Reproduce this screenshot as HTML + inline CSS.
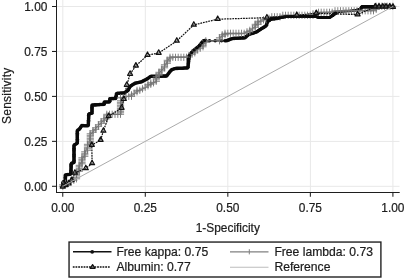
<!DOCTYPE html>
<html><head><meta charset="utf-8"><title>ROC</title><style>html,body{margin:0;padding:0;background:#fff}svg{display:block;filter:grayscale(1)}</style></head><body>
<svg width="405" height="278" viewBox="0 0 405 278">
<rect width="405" height="278" fill="#fff"/>
<g stroke="#e8e8e8" stroke-width="1"><line x1="62.8" y1="0" x2="62.8" y2="192"/><line x1="56.5" y1="186.3" x2="399.5" y2="186.3"/><line x1="145.3" y1="0" x2="145.3" y2="192"/><line x1="56.5" y1="141.4" x2="399.5" y2="141.4"/><line x1="227.8" y1="0" x2="227.8" y2="192"/><line x1="56.5" y1="96.4" x2="399.5" y2="96.4"/><line x1="310.4" y1="0" x2="310.4" y2="192"/><line x1="56.5" y1="51.4" x2="399.5" y2="51.4"/><line x1="392.9" y1="0" x2="392.9" y2="192"/><line x1="56.5" y1="6.5" x2="399.5" y2="6.5"/></g>
<polyline points="62.6,186.3 62.9,182.0 65.3,181.3 65.3,175.0 70.9,174.2 71.2,163.4 74.0,162.5 74.0,145.1 77.3,143.2 77.3,130.6 79.9,128.7 81.7,125.6 88.3,125.8 88.8,113.9 92.0,113.2 92.0,105.1 104.2,104.3 104.2,102.1 109.8,101.9 109.8,98.7 115.6,98.5 116.6,93.4 124.1,92.9 127.9,90.6 130.1,86.4 135.1,83.2 141.4,81.9 146.8,79.1 150.8,76.3 166.5,76.1 169.0,72.9 171.5,69.7 175.3,68.5 187.9,67.9 188.5,61.5 189.3,55.4 192.9,51.1 198.9,46.3 203.6,40.6 226.2,40.8 232.5,38.5 244.8,37.8 248.6,34.6 256.2,32.1 261.2,28.9 266.2,25.8 267.5,21.4 271.3,18.9 278.8,18.2 286.0,16.6 300.0,16.4 316.0,16.5 318.5,17.5 330.0,17.5 334.9,13.5 340.0,11.5 353.8,10.7 360.8,8.8 362.0,6.7 393.0,6.6" fill="none" stroke="#0a0a0a" stroke-width="1.2" stroke-linejoin="round"/>
<g fill="#0a0a0a"><circle cx="62.6" cy="186.3" r="1.80"/><circle cx="62.7" cy="185.1" r="1.80"/><circle cx="62.8" cy="183.9" r="1.80"/><circle cx="62.9" cy="182.7" r="1.80"/><circle cx="63.4" cy="181.9" r="1.80"/><circle cx="64.5" cy="181.5" r="1.80"/><circle cx="65.3" cy="180.9" r="1.80"/><circle cx="65.3" cy="179.7" r="1.80"/><circle cx="65.3" cy="178.5" r="1.80"/><circle cx="65.3" cy="177.3" r="1.80"/><circle cx="65.3" cy="176.1" r="1.80"/><circle cx="65.4" cy="175.0" r="1.80"/><circle cx="66.6" cy="174.8" r="1.80"/><circle cx="67.8" cy="174.6" r="1.80"/><circle cx="69.0" cy="174.5" r="1.80"/><circle cx="70.1" cy="174.3" r="1.80"/><circle cx="70.9" cy="173.8" r="1.80"/><circle cx="70.9" cy="172.6" r="1.80"/><circle cx="71.0" cy="171.4" r="1.80"/><circle cx="71.0" cy="170.2" r="1.80"/><circle cx="71.0" cy="169.0" r="1.80"/><circle cx="71.1" cy="167.8" r="1.80"/><circle cx="71.1" cy="166.6" r="1.80"/><circle cx="71.1" cy="165.4" r="1.80"/><circle cx="71.2" cy="164.2" r="1.80"/><circle cx="71.6" cy="163.3" r="1.80"/><circle cx="72.8" cy="162.9" r="1.80"/><circle cx="73.9" cy="162.5" r="1.80"/><circle cx="74.0" cy="161.4" r="1.80"/><circle cx="74.0" cy="160.2" r="1.80"/><circle cx="74.0" cy="159.0" r="1.80"/><circle cx="74.0" cy="157.8" r="1.80"/><circle cx="74.0" cy="156.6" r="1.80"/><circle cx="74.0" cy="155.4" r="1.80"/><circle cx="74.0" cy="154.2" r="1.80"/><circle cx="74.0" cy="153.0" r="1.80"/><circle cx="74.0" cy="151.8" r="1.80"/><circle cx="74.0" cy="150.6" r="1.80"/><circle cx="74.0" cy="149.4" r="1.80"/><circle cx="74.0" cy="148.2" r="1.80"/><circle cx="74.0" cy="147.0" r="1.80"/><circle cx="74.0" cy="145.8" r="1.80"/><circle cx="74.4" cy="144.9" r="1.80"/><circle cx="75.5" cy="144.3" r="1.80"/><circle cx="76.5" cy="143.7" r="1.80"/><circle cx="77.3" cy="142.9" r="1.80"/><circle cx="77.3" cy="141.7" r="1.80"/><circle cx="77.3" cy="140.5" r="1.80"/><circle cx="77.3" cy="139.3" r="1.80"/><circle cx="77.3" cy="138.1" r="1.80"/><circle cx="77.3" cy="136.9" r="1.80"/><circle cx="77.3" cy="135.7" r="1.80"/><circle cx="77.3" cy="134.5" r="1.80"/><circle cx="77.3" cy="133.3" r="1.80"/><circle cx="77.3" cy="132.1" r="1.80"/><circle cx="77.3" cy="130.9" r="1.80"/><circle cx="78.0" cy="130.1" r="1.80"/><circle cx="79.0" cy="129.4" r="1.80"/><circle cx="79.9" cy="128.6" r="1.80"/><circle cx="80.5" cy="127.6" r="1.80"/><circle cx="81.1" cy="126.6" r="1.80"/><circle cx="81.8" cy="125.6" r="1.80"/><circle cx="83.0" cy="125.6" r="1.80"/><circle cx="84.2" cy="125.7" r="1.80"/><circle cx="85.4" cy="125.7" r="1.80"/><circle cx="86.6" cy="125.7" r="1.80"/><circle cx="87.8" cy="125.8" r="1.80"/><circle cx="88.3" cy="125.1" r="1.80"/><circle cx="88.4" cy="123.9" r="1.80"/><circle cx="88.4" cy="122.7" r="1.80"/><circle cx="88.5" cy="121.5" r="1.80"/><circle cx="88.5" cy="120.3" r="1.80"/><circle cx="88.6" cy="119.1" r="1.80"/><circle cx="88.6" cy="117.9" r="1.80"/><circle cx="88.7" cy="116.7" r="1.80"/><circle cx="88.7" cy="115.5" r="1.80"/><circle cx="88.8" cy="114.3" r="1.80"/><circle cx="89.5" cy="113.7" r="1.80"/><circle cx="90.7" cy="113.5" r="1.80"/><circle cx="91.9" cy="113.2" r="1.80"/><circle cx="92.0" cy="112.1" r="1.80"/><circle cx="92.0" cy="110.9" r="1.80"/><circle cx="92.0" cy="109.7" r="1.80"/><circle cx="92.0" cy="108.5" r="1.80"/><circle cx="92.0" cy="107.3" r="1.80"/><circle cx="92.0" cy="106.1" r="1.80"/><circle cx="92.2" cy="105.1" r="1.80"/><circle cx="93.4" cy="105.0" r="1.80"/><circle cx="94.6" cy="104.9" r="1.80"/><circle cx="95.8" cy="104.9" r="1.80"/><circle cx="97.0" cy="104.8" r="1.80"/><circle cx="98.2" cy="104.7" r="1.80"/><circle cx="99.4" cy="104.6" r="1.80"/><circle cx="100.6" cy="104.5" r="1.80"/><circle cx="101.8" cy="104.5" r="1.80"/><circle cx="103.0" cy="104.4" r="1.80"/><circle cx="104.2" cy="104.3" r="1.80"/><circle cx="104.2" cy="103.1" r="1.80"/><circle cx="104.4" cy="102.1" r="1.80"/><circle cx="105.6" cy="102.1" r="1.80"/><circle cx="106.8" cy="102.0" r="1.80"/><circle cx="108.0" cy="102.0" r="1.80"/><circle cx="109.2" cy="101.9" r="1.80"/><circle cx="109.8" cy="101.3" r="1.80"/><circle cx="109.8" cy="100.1" r="1.80"/><circle cx="109.8" cy="98.9" r="1.80"/><circle cx="110.8" cy="98.7" r="1.80"/><circle cx="112.0" cy="98.6" r="1.80"/><circle cx="113.2" cy="98.6" r="1.80"/><circle cx="114.4" cy="98.5" r="1.80"/><circle cx="115.6" cy="98.5" r="1.80"/><circle cx="115.8" cy="97.4" r="1.80"/><circle cx="116.1" cy="96.2" r="1.80"/><circle cx="116.3" cy="95.0" r="1.80"/><circle cx="116.5" cy="93.8" r="1.80"/><circle cx="117.4" cy="93.3" r="1.80"/><circle cx="118.6" cy="93.3" r="1.80"/><circle cx="119.7" cy="93.2" r="1.80"/><circle cx="120.9" cy="93.1" r="1.80"/><circle cx="122.1" cy="93.0" r="1.80"/><circle cx="123.3" cy="93.0" r="1.80"/><circle cx="124.5" cy="92.7" r="1.80"/><circle cx="125.5" cy="92.1" r="1.80"/><circle cx="126.5" cy="91.4" r="1.80"/><circle cx="127.6" cy="90.8" r="1.80"/><circle cx="128.3" cy="89.9" r="1.80"/><circle cx="128.8" cy="88.8" r="1.80"/><circle cx="129.4" cy="87.8" r="1.80"/><circle cx="129.9" cy="86.7" r="1.80"/><circle cx="130.8" cy="85.9" r="1.80"/><circle cx="131.8" cy="85.3" r="1.80"/><circle cx="132.8" cy="84.6" r="1.80"/><circle cx="133.9" cy="84.0" r="1.80"/><circle cx="134.9" cy="83.4" r="1.80"/><circle cx="136.0" cy="83.0" r="1.80"/><circle cx="137.2" cy="82.8" r="1.80"/><circle cx="138.4" cy="82.5" r="1.80"/><circle cx="139.5" cy="82.3" r="1.80"/><circle cx="140.7" cy="82.0" r="1.80"/><circle cx="141.8" cy="81.7" r="1.80"/><circle cx="142.9" cy="81.1" r="1.80"/><circle cx="144.0" cy="80.6" r="1.80"/><circle cx="145.0" cy="80.0" r="1.80"/><circle cx="146.1" cy="79.5" r="1.80"/><circle cx="147.1" cy="78.9" r="1.80"/><circle cx="148.1" cy="78.2" r="1.80"/><circle cx="149.1" cy="77.5" r="1.80"/><circle cx="150.1" cy="76.8" r="1.80"/><circle cx="151.1" cy="76.3" r="1.80"/><circle cx="152.3" cy="76.3" r="1.80"/><circle cx="153.5" cy="76.3" r="1.80"/><circle cx="154.7" cy="76.3" r="1.80"/><circle cx="155.9" cy="76.2" r="1.80"/><circle cx="157.1" cy="76.2" r="1.80"/><circle cx="158.3" cy="76.2" r="1.80"/><circle cx="159.5" cy="76.2" r="1.80"/><circle cx="160.7" cy="76.2" r="1.80"/><circle cx="161.9" cy="76.2" r="1.80"/><circle cx="163.1" cy="76.1" r="1.80"/><circle cx="164.3" cy="76.1" r="1.80"/><circle cx="165.5" cy="76.1" r="1.80"/><circle cx="166.6" cy="75.9" r="1.80"/><circle cx="167.4" cy="75.0" r="1.80"/><circle cx="168.1" cy="74.0" r="1.80"/><circle cx="168.9" cy="73.1" r="1.80"/><circle cx="169.6" cy="72.1" r="1.80"/><circle cx="170.3" cy="71.2" r="1.80"/><circle cx="171.1" cy="70.3" r="1.80"/><circle cx="172.0" cy="69.6" r="1.80"/><circle cx="173.1" cy="69.2" r="1.80"/><circle cx="174.3" cy="68.8" r="1.80"/><circle cx="175.4" cy="68.5" r="1.80"/><circle cx="176.6" cy="68.4" r="1.80"/><circle cx="177.8" cy="68.4" r="1.80"/><circle cx="179.0" cy="68.3" r="1.80"/><circle cx="180.2" cy="68.3" r="1.80"/><circle cx="181.4" cy="68.2" r="1.80"/><circle cx="182.6" cy="68.2" r="1.80"/><circle cx="183.8" cy="68.1" r="1.80"/><circle cx="185.0" cy="68.0" r="1.80"/><circle cx="186.2" cy="68.0" r="1.80"/><circle cx="187.4" cy="67.9" r="1.80"/><circle cx="188.0" cy="67.2" r="1.80"/><circle cx="188.1" cy="66.0" r="1.80"/><circle cx="188.2" cy="64.8" r="1.80"/><circle cx="188.3" cy="63.6" r="1.80"/><circle cx="188.4" cy="62.4" r="1.80"/><circle cx="188.5" cy="61.2" r="1.80"/><circle cx="188.7" cy="60.0" r="1.80"/><circle cx="188.8" cy="58.9" r="1.80"/><circle cx="189.0" cy="57.7" r="1.80"/><circle cx="189.2" cy="56.5" r="1.80"/><circle cx="189.4" cy="55.3" r="1.80"/><circle cx="190.1" cy="54.4" r="1.80"/><circle cx="190.9" cy="53.5" r="1.80"/><circle cx="191.7" cy="52.5" r="1.80"/><circle cx="192.5" cy="51.6" r="1.80"/><circle cx="193.3" cy="50.8" r="1.80"/><circle cx="194.2" cy="50.0" r="1.80"/><circle cx="195.2" cy="49.3" r="1.80"/><circle cx="196.1" cy="48.5" r="1.80"/><circle cx="197.0" cy="47.8" r="1.80"/><circle cx="198.0" cy="47.0" r="1.80"/><circle cx="198.9" cy="46.3" r="1.80"/><circle cx="199.7" cy="45.4" r="1.80"/><circle cx="200.4" cy="44.4" r="1.80"/><circle cx="201.2" cy="43.5" r="1.80"/><circle cx="202.0" cy="42.6" r="1.80"/><circle cx="202.7" cy="41.7" r="1.80"/><circle cx="203.5" cy="40.7" r="1.80"/><circle cx="204.6" cy="40.6" r="1.80"/><circle cx="205.8" cy="40.6" r="1.80"/><circle cx="225.0" cy="40.8" r="1.80"/><circle cx="226.2" cy="40.8" r="1.80"/><circle cx="227.4" cy="40.4" r="1.80"/><circle cx="228.5" cy="40.0" r="1.80"/><circle cx="229.6" cy="39.6" r="1.80"/><circle cx="230.7" cy="39.1" r="1.80"/><circle cx="231.9" cy="38.7" r="1.80"/><circle cx="233.0" cy="38.5" r="1.80"/><circle cx="234.2" cy="38.4" r="1.80"/><circle cx="235.4" cy="38.3" r="1.80"/><circle cx="236.6" cy="38.3" r="1.80"/><circle cx="237.8" cy="38.2" r="1.80"/><circle cx="239.0" cy="38.1" r="1.80"/><circle cx="240.2" cy="38.1" r="1.80"/><circle cx="241.4" cy="38.0" r="1.80"/><circle cx="242.6" cy="37.9" r="1.80"/><circle cx="243.8" cy="37.9" r="1.80"/><circle cx="245.0" cy="37.7" r="1.80"/><circle cx="245.9" cy="36.9" r="1.80"/><circle cx="246.8" cy="36.1" r="1.80"/><circle cx="247.7" cy="35.3" r="1.80"/><circle cx="248.6" cy="34.6" r="1.80"/><circle cx="249.8" cy="34.2" r="1.80"/><circle cx="250.9" cy="33.8" r="1.80"/><circle cx="252.1" cy="33.5" r="1.80"/><circle cx="253.2" cy="33.1" r="1.80"/><circle cx="254.3" cy="32.7" r="1.80"/><circle cx="255.5" cy="32.3" r="1.80"/><circle cx="256.6" cy="31.9" r="1.80"/><circle cx="257.6" cy="31.2" r="1.80"/><circle cx="258.6" cy="30.6" r="1.80"/><circle cx="259.6" cy="29.9" r="1.80"/><circle cx="260.6" cy="29.3" r="1.80"/><circle cx="261.6" cy="28.6" r="1.80"/><circle cx="262.7" cy="28.0" r="1.80"/><circle cx="263.7" cy="27.4" r="1.80"/><circle cx="264.7" cy="26.7" r="1.80"/><circle cx="265.7" cy="26.1" r="1.80"/><circle cx="266.4" cy="25.2" r="1.80"/><circle cx="266.7" cy="24.1" r="1.80"/><circle cx="267.1" cy="22.9" r="1.80"/><circle cx="267.4" cy="21.7" r="1.80"/><circle cx="268.2" cy="20.9" r="1.80"/><circle cx="269.2" cy="20.3" r="1.80"/><circle cx="270.2" cy="19.6" r="1.80"/><circle cx="271.2" cy="19.0" r="1.80"/><circle cx="272.4" cy="18.8" r="1.80"/><circle cx="273.6" cy="18.7" r="1.80"/><circle cx="274.8" cy="18.6" r="1.80"/><circle cx="276.0" cy="18.5" r="1.80"/><circle cx="277.2" cy="18.4" r="1.44"/><circle cx="278.4" cy="18.2" r="1.44"/><circle cx="279.5" cy="18.0" r="1.44"/><circle cx="280.7" cy="17.8" r="1.44"/><circle cx="281.9" cy="17.5" r="1.44"/><circle cx="283.1" cy="17.3" r="1.44"/><circle cx="284.2" cy="17.0" r="1.44"/><circle cx="285.4" cy="16.7" r="1.44"/><circle cx="286.6" cy="16.6" r="1.44"/><circle cx="287.8" cy="16.6" r="1.44"/><circle cx="289.0" cy="16.6" r="1.44"/><circle cx="290.2" cy="16.5" r="1.44"/><circle cx="291.4" cy="16.5" r="1.44"/><circle cx="292.6" cy="16.5" r="1.44"/><circle cx="293.8" cy="16.5" r="1.44"/><circle cx="295.0" cy="16.5" r="1.44"/><circle cx="296.2" cy="16.5" r="1.44"/><circle cx="297.4" cy="16.4" r="1.44"/><circle cx="298.6" cy="16.4" r="1.44"/><circle cx="299.8" cy="16.4" r="1.44"/><circle cx="301.0" cy="16.4" r="1.44"/><circle cx="302.2" cy="16.4" r="1.44"/><circle cx="303.4" cy="16.4" r="1.44"/><circle cx="304.6" cy="16.4" r="1.44"/><circle cx="305.8" cy="16.4" r="1.44"/><circle cx="307.0" cy="16.4" r="1.44"/><circle cx="308.2" cy="16.5" r="1.44"/><circle cx="309.4" cy="16.5" r="1.44"/><circle cx="310.6" cy="16.5" r="1.44"/><circle cx="311.8" cy="16.5" r="1.44"/><circle cx="313.0" cy="16.5" r="1.44"/><circle cx="314.2" cy="16.5" r="1.44"/><circle cx="315.4" cy="16.5" r="1.44"/><circle cx="316.5" cy="16.7" r="1.44"/><circle cx="317.6" cy="17.2" r="1.44"/><circle cx="318.8" cy="17.5" r="1.44"/><circle cx="320.0" cy="17.5" r="1.44"/><circle cx="321.2" cy="17.5" r="1.44"/><circle cx="322.4" cy="17.5" r="1.44"/><circle cx="323.6" cy="17.5" r="1.44"/><circle cx="324.8" cy="17.5" r="1.44"/><circle cx="326.0" cy="17.5" r="1.44"/><circle cx="327.2" cy="17.5" r="1.44"/><circle cx="328.4" cy="17.5" r="1.44"/><circle cx="329.6" cy="17.5" r="1.44"/><circle cx="330.6" cy="17.0" r="1.44"/><circle cx="331.5" cy="16.2" r="1.44"/><circle cx="332.5" cy="15.5" r="1.80"/><circle cx="333.4" cy="14.7" r="1.80"/><circle cx="334.3" cy="14.0" r="1.80"/><circle cx="335.3" cy="13.3" r="1.80"/><circle cx="336.4" cy="12.9" r="1.80"/><circle cx="337.6" cy="12.5" r="1.35"/><circle cx="338.7" cy="12.0" r="1.35"/><circle cx="339.8" cy="11.6" r="1.35"/><circle cx="341.0" cy="11.4" r="1.35"/><circle cx="342.2" cy="11.4" r="1.35"/><circle cx="343.4" cy="11.3" r="1.35"/><circle cx="344.6" cy="11.2" r="1.35"/><circle cx="345.8" cy="11.2" r="1.35"/><circle cx="347.0" cy="11.1" r="1.35"/><circle cx="348.2" cy="11.0" r="1.35"/><circle cx="349.4" cy="11.0" r="1.35"/><circle cx="350.6" cy="10.9" r="1.35"/><circle cx="351.8" cy="10.8" r="1.35"/><circle cx="353.0" cy="10.7" r="1.35"/><circle cx="354.1" cy="10.6" r="1.35"/><circle cx="355.3" cy="10.3" r="1.35"/><circle cx="356.5" cy="10.0" r="1.35"/><circle cx="357.6" cy="9.7" r="1.35"/><circle cx="358.8" cy="9.3" r="1.35"/><circle cx="359.9" cy="9.0" r="1.35"/><circle cx="361.0" cy="8.5" r="1.35"/><circle cx="361.5" cy="7.5" r="1.80"/><circle cx="362.3" cy="6.7" r="1.80"/><circle cx="363.5" cy="6.7" r="1.80"/><circle cx="364.7" cy="6.7" r="1.80"/><circle cx="365.9" cy="6.7" r="1.80"/><circle cx="367.1" cy="6.7" r="1.80"/><circle cx="368.3" cy="6.7" r="1.80"/><circle cx="369.5" cy="6.7" r="1.80"/><circle cx="370.7" cy="6.7" r="1.80"/><circle cx="371.9" cy="6.7" r="1.80"/><circle cx="373.1" cy="6.7" r="1.80"/><circle cx="374.3" cy="6.7" r="1.80"/><circle cx="375.5" cy="6.7" r="1.80"/><circle cx="376.7" cy="6.7" r="1.80"/><circle cx="377.9" cy="6.6" r="1.80"/><circle cx="379.1" cy="6.6" r="1.80"/><circle cx="380.3" cy="6.6" r="1.80"/><circle cx="381.5" cy="6.6" r="1.80"/><circle cx="382.7" cy="6.6" r="1.80"/><circle cx="383.9" cy="6.6" r="1.80"/><circle cx="385.1" cy="6.6" r="1.80"/><circle cx="386.3" cy="6.6" r="1.80"/><circle cx="387.5" cy="6.6" r="1.80"/><circle cx="388.7" cy="6.6" r="1.80"/><circle cx="389.9" cy="6.6" r="1.80"/><circle cx="391.1" cy="6.6" r="1.80"/><circle cx="392.3" cy="6.6" r="1.80"/><circle cx="209.5" cy="40.7" r="1.8"/><circle cx="215.2" cy="40.7" r="1.8"/><circle cx="221.5" cy="40.7" r="1.8"/></g>
<polyline points="62.6,186.3 66.0,184.3 70.0,182.3 73.0,180.2 76.3,179.0 76.8,174.5 79.4,166.0 83.0,158.3 85.0,152.8 88.9,143.2 90.8,134.4 97.1,126.8 106.3,118.0 107.0,114.8 121.0,114.3 121.5,97.5 126.0,96.9 132.3,95.6 135.4,92.4 138.6,90.6 144.9,88.0 149.9,84.3 156.2,81.7 156.9,77.3 160.0,72.0 163.8,68.0 166.5,63.0 169.9,57.2 170.5,56.9 188.5,56.9 191.5,54.0 195.5,51.0 201.5,47.0 205.6,42.3 206.5,40.8 219.5,40.7 220.3,37.4 224.6,33.9 242.3,33.9 248.6,31.3 254.9,26.9 258.0,22.2 261.2,20.3 266.2,19.5 271.0,17.6 280.0,16.3 286.0,15.3 300.0,15.4 312.0,15.2 318.8,12.6 328.6,12.2 334.9,11.3 353.8,10.6 376.0,10.0 377.2,7.0 393.0,6.3" fill="none" stroke="#767676" stroke-width="1"/>
<path d="M59.1,186.3h7.2M62.8,182.7v7.2M59.1,184.8h7.2M62.8,181.2v7.2M61.9,184.8h7.2M65.5,181.2v7.2M61.9,183.3h7.2M65.5,179.7v7.2M64.7,183.3h7.2M68.2,179.7v7.2M67.4,181.8h7.2M71.0,178.2v7.2M67.4,180.3h7.2M71.0,176.7v7.2M70.2,180.3h7.2M73.8,176.7v7.2M72.9,178.8h7.2M76.5,175.2v7.2M72.9,177.3h7.2M76.5,173.7v7.2M72.9,175.8h7.2M76.5,172.2v7.2M72.9,174.3h7.2M76.5,170.7v7.2M72.9,172.8h7.2M76.5,169.2v7.2M75.7,171.3h7.2M79.2,167.7v7.2M75.7,169.8h7.2M79.2,166.2v7.2M75.7,168.3h7.2M79.2,164.7v7.2M75.7,166.8h7.2M79.2,163.2v7.2M75.7,165.3h7.2M79.2,161.7v7.2M78.4,163.8h7.2M82.0,160.2v7.2M78.4,162.3h7.2M82.0,158.7v7.2M78.4,160.8h7.2M82.0,157.2v7.2M78.4,159.3h7.2M82.0,155.7v7.2M78.4,157.8h7.2M82.0,154.2v7.2M81.2,156.3h7.2M84.8,152.7v7.2M81.2,154.8h7.2M84.8,151.2v7.2M81.2,153.3h7.2M84.8,149.7v7.2M81.2,151.8h7.2M84.8,148.2v7.2M83.9,150.3h7.2M87.5,146.7v7.2M83.9,148.8h7.2M87.5,145.2v7.2M83.9,147.3h7.2M87.5,143.7v7.2M83.9,145.8h7.2M87.5,142.2v7.2M83.9,144.3h7.2M87.5,140.7v7.2M86.7,142.8h7.2M90.2,139.2v7.2M86.7,141.3h7.2M90.2,137.7v7.2M86.7,139.8h7.2M90.2,136.2v7.2M86.7,138.3h7.2M90.2,134.7v7.2M86.7,136.8h7.2M90.2,133.2v7.2M86.7,135.3h7.2M90.2,131.7v7.2M86.7,133.8h7.2M90.2,130.2v7.2M89.4,132.3h7.2M93.0,128.7v7.2M89.4,130.8h7.2M93.0,127.2v7.2M92.2,129.3h7.2M95.8,125.7v7.2M92.2,127.8h7.2M95.8,124.2v7.2M94.9,126.3h7.2M98.5,122.7v7.2M94.9,124.8h7.2M98.5,121.2v7.2M97.7,123.3h7.2M101.2,119.7v7.2M97.7,121.8h7.2M101.2,118.2v7.2M100.4,120.3h7.2M104.0,116.7v7.2M100.4,118.8h7.2M104.0,115.2v7.2M103.2,118.8h7.2M106.8,115.2v7.2M103.2,117.3h7.2M106.8,113.7v7.2M103.2,115.8h7.2M106.8,112.2v7.2M103.2,114.3h7.2M106.8,110.7v7.2M105.9,114.3h7.2M109.5,110.7v7.2M108.7,114.3h7.2M112.2,110.7v7.2M111.4,114.3h7.2M115.0,110.7v7.2M114.2,114.3h7.2M117.8,110.7v7.2M116.9,114.3h7.2M120.5,110.7v7.2M116.9,112.8h7.2M120.5,109.2v7.2M116.9,111.3h7.2M120.5,107.7v7.2M116.9,109.8h7.2M120.5,106.2v7.2M116.9,108.3h7.2M120.5,104.7v7.2M116.9,106.8h7.2M120.5,103.2v7.2M116.9,105.3h7.2M120.5,101.7v7.2M116.9,103.8h7.2M120.5,100.2v7.2M116.9,102.3h7.2M120.5,98.7v7.2M116.9,100.8h7.2M120.5,97.2v7.2M116.9,97.8h7.2M120.5,94.2v7.2M119.7,97.8h7.2M123.2,94.2v7.2M122.4,96.3h7.2M126.0,92.7v7.2M125.2,96.3h7.2M128.8,92.7v7.2M127.9,96.3h7.2M131.5,92.7v7.2M127.9,94.8h7.2M131.5,91.2v7.2M130.7,93.3h7.2M134.2,89.7v7.2M133.4,91.8h7.2M137.0,88.2v7.2M133.4,90.3h7.2M137.0,86.7v7.2M136.2,90.3h7.2M139.8,86.7v7.2M138.9,88.8h7.2M142.5,85.2v7.2M141.7,87.3h7.2M145.2,83.7v7.2M144.4,85.8h7.2M148.0,82.2v7.2M144.4,84.3h7.2M148.0,80.7v7.2M147.2,84.3h7.2M150.8,80.7v7.2M147.2,82.8h7.2M150.8,79.2v7.2M149.9,82.8h7.2M153.5,79.2v7.2M152.7,81.3h7.2M156.2,77.7v7.2M152.7,79.8h7.2M156.2,76.2v7.2M152.7,78.3h7.2M156.2,74.7v7.2M152.7,76.8h7.2M156.2,73.2v7.2M155.4,75.3h7.2M159.0,71.7v7.2M155.4,73.8h7.2M159.0,70.2v7.2M155.4,72.3h7.2M159.0,68.7v7.2M158.2,70.8h7.2M161.8,67.2v7.2M158.2,69.3h7.2M161.8,65.7v7.2M160.9,67.8h7.2M164.5,64.2v7.2M160.9,66.3h7.2M164.5,62.7v7.2M160.9,64.8h7.2M164.5,61.2v7.2M163.7,63.3h7.2M167.2,59.7v7.2M163.7,61.8h7.2M167.2,58.2v7.2M163.7,60.3h7.2M167.2,56.7v7.2M166.4,58.8h7.2M170.0,55.2v7.2M166.4,57.3h7.2M170.0,53.7v7.2M169.2,57.3h7.2M172.8,53.7v7.2M171.9,57.3h7.2M175.5,53.7v7.2M174.7,57.3h7.2M178.2,53.7v7.2M177.4,57.3h7.2M181.0,53.7v7.2M180.2,57.3h7.2M183.8,53.7v7.2M182.9,57.3h7.2M186.5,53.7v7.2M185.7,55.8h7.2M189.2,52.2v7.2M188.4,54.3h7.2M192.0,50.7v7.2M188.4,52.8h7.2M192.0,49.2v7.2M191.2,52.8h7.2M194.8,49.2v7.2M191.2,51.3h7.2M194.8,47.7v7.2M193.9,49.8h7.2M197.5,46.2v7.2M196.7,48.3h7.2M200.2,44.7v7.2M199.4,46.8h7.2M203.0,43.2v7.2M199.4,45.3h7.2M203.0,41.7v7.2M199.4,43.8h7.2M203.0,40.2v7.2M202.2,42.3h7.2M205.8,38.7v7.2M202.2,40.8h7.2M205.8,37.2v7.2M215.9,40.8h7.2M219.5,37.2v7.2M215.9,39.3h7.2M219.5,35.7v7.2M215.9,37.8h7.2M219.5,34.2v7.2M218.7,36.3h7.2M222.2,32.7v7.2M218.7,34.8h7.2M222.2,31.2v7.2M221.4,34.8h7.2M225.0,31.2v7.2M221.4,33.3h7.2M225.0,29.7v7.2M224.2,33.3h7.2M227.8,29.7v7.2M226.9,33.3h7.2M230.5,29.7v7.2M229.7,33.3h7.2M233.2,29.7v7.2M232.4,33.3h7.2M236.0,29.7v7.2M235.2,33.3h7.2M238.8,29.7v7.2M237.9,33.3h7.2M241.5,29.7v7.2M240.7,33.3h7.2M244.2,29.7v7.2M243.4,31.8h7.2M247.0,28.2v7.2M246.2,31.8h7.2M249.8,28.2v7.2M246.2,30.3h7.2M249.8,26.7v7.2M248.9,28.8h7.2M252.5,25.2v7.2M251.7,27.3h7.2M255.2,23.7v7.2M251.7,25.8h7.2M255.2,22.2v7.2M251.7,24.3h7.2M255.2,20.7v7.2M254.4,24.3h7.2M258.0,20.7v7.2M254.4,22.8h7.2M258.0,19.2v7.2M254.4,21.3h7.2M258.0,17.7v7.2M257.1,21.3h7.2M260.8,17.7v7.2M259.9,19.8h7.2M263.5,16.2v7.2M262.6,19.8h7.2M266.2,16.2v7.2M265.4,18.3h7.2M269.0,14.7v7.2M268.1,16.8h7.2M271.8,13.2v7.2M270.9,16.8h7.2M274.5,13.2v7.2M273.6,16.8h7.2M277.2,13.2v7.2M276.4,16.8h7.2M280.0,13.2v7.2M279.1,15.3h7.2M282.8,11.7v7.2M281.9,15.3h7.2M285.5,11.7v7.2M284.6,15.3h7.2M288.2,11.7v7.2M287.4,15.3h7.2M291.0,11.7v7.2M290.1,15.3h7.2M293.8,11.7v7.2M292.9,15.3h7.2M296.5,11.7v7.2M295.6,15.3h7.2M299.2,11.7v7.2M298.4,15.3h7.2M302.0,11.7v7.2M301.1,15.3h7.2M304.8,11.7v7.2M303.9,15.3h7.2M307.5,11.7v7.2M306.6,15.3h7.2M310.2,11.7v7.2M309.4,15.3h7.2M313.0,11.7v7.2M309.4,13.8h7.2M313.0,10.2v7.2M312.1,13.8h7.2M315.8,10.2v7.2M314.9,13.8h7.2M318.5,10.2v7.2M314.9,12.3h7.2M318.5,8.7v7.2M317.6,12.3h7.2M321.2,8.7v7.2M320.4,12.3h7.2M324.0,8.7v7.2M323.1,12.3h7.2M326.8,8.7v7.2M325.9,12.3h7.2M329.5,8.7v7.2M328.6,12.3h7.2M332.2,8.7v7.2M331.4,10.8h7.2M335.0,7.2v7.2M334.1,10.8h7.2M337.8,7.2v7.2M336.9,10.8h7.2M340.5,7.2v7.2M339.6,10.8h7.2M343.2,7.2v7.2M342.4,10.8h7.2M346.0,7.2v7.2M345.1,10.8h7.2M348.8,7.2v7.2M347.9,10.8h7.2M351.5,7.2v7.2M350.6,10.8h7.2M354.2,7.2v7.2M353.4,10.8h7.2M357.0,7.2v7.2M356.1,10.8h7.2M359.8,7.2v7.2M358.9,10.8h7.2M362.5,7.2v7.2M361.6,10.8h7.2M365.2,7.2v7.2M364.4,10.8h7.2M368.0,7.2v7.2M367.1,10.8h7.2M370.8,7.2v7.2M369.9,10.8h7.2M373.5,7.2v7.2M369.9,9.3h7.2M373.5,5.7v7.2M372.6,9.3h7.2M376.2,5.7v7.2M372.6,7.8h7.2M376.2,4.2v7.2M372.6,6.3h7.2M376.2,2.7v7.2M375.4,6.3h7.2M379.0,2.7v7.2M378.1,6.3h7.2M381.8,2.7v7.2M380.9,6.3h7.2M384.5,2.7v7.2M383.6,6.3h7.2M387.2,2.7v7.2M386.4,6.3h7.2M390.0,2.7v7.2M389.1,6.3h7.2M392.8,2.7v7.2" stroke="#767676" stroke-width="0.9" fill="none"/>
<g fill="#0a0a0a"><circle cx="188.8" cy="58.9" r="1.55"/><circle cx="189.4" cy="55.3" r="1.55"/><circle cx="191.7" cy="52.5" r="1.55"/><circle cx="194.2" cy="50.0" r="1.55"/><circle cx="197.0" cy="47.8" r="1.55"/><circle cx="199.7" cy="45.4" r="1.55"/><circle cx="202.0" cy="42.6" r="1.55"/><circle cx="204.6" cy="40.6" r="1.55"/><circle cx="268.2" cy="20.9" r="1.80"/><circle cx="269.2" cy="20.3" r="1.80"/><circle cx="270.2" cy="19.6" r="1.80"/><circle cx="271.2" cy="19.0" r="1.80"/><circle cx="272.4" cy="18.8" r="1.80"/><circle cx="273.6" cy="18.7" r="1.80"/><circle cx="274.8" cy="18.6" r="1.80"/><circle cx="276.0" cy="18.5" r="1.80"/><circle cx="277.2" cy="18.4" r="1.44"/><circle cx="278.4" cy="18.2" r="1.44"/><circle cx="279.5" cy="18.0" r="1.44"/><circle cx="280.7" cy="17.8" r="1.44"/><circle cx="281.9" cy="17.5" r="1.44"/><circle cx="283.1" cy="17.3" r="1.44"/><circle cx="284.2" cy="17.0" r="1.44"/><circle cx="285.4" cy="16.7" r="1.44"/><circle cx="286.6" cy="16.6" r="1.44"/><circle cx="287.8" cy="16.6" r="1.44"/><circle cx="289.0" cy="16.6" r="1.44"/><circle cx="290.2" cy="16.5" r="1.44"/><circle cx="291.4" cy="16.5" r="1.44"/><circle cx="292.6" cy="16.5" r="1.44"/><circle cx="293.8" cy="16.5" r="1.44"/><circle cx="295.0" cy="16.5" r="1.44"/><circle cx="296.2" cy="16.5" r="1.44"/><circle cx="297.4" cy="16.4" r="1.44"/><circle cx="298.6" cy="16.4" r="1.44"/><circle cx="299.8" cy="16.4" r="1.44"/><circle cx="301.0" cy="16.4" r="1.44"/><circle cx="302.2" cy="16.4" r="1.44"/><circle cx="303.4" cy="16.4" r="1.44"/><circle cx="304.6" cy="16.4" r="1.44"/><circle cx="305.8" cy="16.4" r="1.44"/><circle cx="307.0" cy="16.4" r="1.44"/><circle cx="308.2" cy="16.5" r="1.44"/><circle cx="309.4" cy="16.5" r="1.44"/><circle cx="310.6" cy="16.5" r="1.44"/><circle cx="311.8" cy="16.5" r="1.44"/><circle cx="313.0" cy="16.5" r="1.44"/><circle cx="314.2" cy="16.5" r="1.44"/><circle cx="315.4" cy="16.5" r="1.44"/><circle cx="316.5" cy="16.7" r="1.44"/><circle cx="317.6" cy="17.2" r="1.44"/><circle cx="318.8" cy="17.5" r="1.44"/><circle cx="320.0" cy="17.5" r="1.44"/><circle cx="321.2" cy="17.5" r="1.44"/><circle cx="322.4" cy="17.5" r="1.44"/><circle cx="323.6" cy="17.5" r="1.44"/><circle cx="324.8" cy="17.5" r="1.44"/><circle cx="326.0" cy="17.5" r="1.44"/><circle cx="327.2" cy="17.5" r="1.44"/><circle cx="328.4" cy="17.5" r="1.44"/><circle cx="329.6" cy="17.5" r="1.44"/><circle cx="330.6" cy="17.0" r="1.44"/><circle cx="331.5" cy="16.2" r="1.44"/><circle cx="332.5" cy="15.5" r="1.80"/><circle cx="333.4" cy="14.7" r="1.80"/><circle cx="334.3" cy="14.0" r="1.80"/><circle cx="335.3" cy="13.3" r="1.80"/><circle cx="361.5" cy="7.5" r="1.80"/><circle cx="362.3" cy="6.7" r="1.80"/><circle cx="363.5" cy="6.7" r="1.80"/><circle cx="364.7" cy="6.7" r="1.80"/><circle cx="365.9" cy="6.7" r="1.80"/><circle cx="367.1" cy="6.7" r="1.80"/><circle cx="368.3" cy="6.7" r="1.80"/><circle cx="369.5" cy="6.7" r="1.80"/><circle cx="370.7" cy="6.7" r="1.80"/><circle cx="371.9" cy="6.7" r="1.80"/><circle cx="373.1" cy="6.7" r="1.80"/><circle cx="374.3" cy="6.7" r="1.80"/><circle cx="375.5" cy="6.7" r="1.80"/><circle cx="376.7" cy="6.7" r="1.80"/><circle cx="377.9" cy="6.6" r="1.80"/><circle cx="379.1" cy="6.6" r="1.80"/><circle cx="380.3" cy="6.6" r="1.80"/><circle cx="381.5" cy="6.6" r="1.80"/><circle cx="382.7" cy="6.6" r="1.80"/><circle cx="383.9" cy="6.6" r="1.80"/><circle cx="385.1" cy="6.6" r="1.80"/><circle cx="386.3" cy="6.6" r="1.80"/><circle cx="387.5" cy="6.6" r="1.80"/><circle cx="388.7" cy="6.6" r="1.80"/><circle cx="389.9" cy="6.6" r="1.80"/><circle cx="391.1" cy="6.6" r="1.80"/><circle cx="392.3" cy="6.6" r="1.80"/></g>
<polyline points="62.7,186.8 65.6,185.3 68.6,183.7 71.6,180.3 74.9,172.9 85.8,168.4 92.1,163.4 91.8,145.1 100.6,140.1 103.4,130.9 108.7,116.2 121.6,108.0 123.8,99.2 126.8,85.0 130.1,74.0 135.9,65.8 147.5,55.2 158.7,53.0 176.8,40.9 193.8,24.9 217.7,19.2 266.9,17.7 296.8,15.2 316.3,13.3 357.6,14.6 375.3,6.6 379.0,6.7 382.8,6.7 386.0,6.7 389.7,6.8 393.0,7.0" fill="none" stroke="#111" stroke-width="1.2" stroke-dasharray="1.8,0.9"/>
<path d="M60.2,188.1L62.7,183.6L65.2,188.1Z" fill="#808080" fill-opacity="0.55" stroke="#111" stroke-width="1.2" stroke-linejoin="round"/>
<path d="M63.1,186.6L65.6,182.1L68.1,186.6Z" fill="#808080" fill-opacity="0.55" stroke="#111" stroke-width="1.2" stroke-linejoin="round"/>
<path d="M66.1,185.0L68.6,180.5L71.1,185.0Z" fill="#808080" fill-opacity="0.55" stroke="#111" stroke-width="1.2" stroke-linejoin="round"/>
<path d="M69.1,181.6L71.6,177.1L74.1,181.6Z" fill="#808080" fill-opacity="0.55" stroke="#111" stroke-width="1.2" stroke-linejoin="round"/>
<path d="M72.4,174.2L74.9,169.7L77.4,174.2Z" fill="#808080" fill-opacity="0.55" stroke="#111" stroke-width="1.2" stroke-linejoin="round"/>
<path d="M83.3,169.7L85.8,165.2L88.3,169.7Z" fill="#808080" fill-opacity="0.55" stroke="#111" stroke-width="1.2" stroke-linejoin="round"/>
<path d="M89.6,164.7L92.1,160.2L94.6,164.7Z" fill="#808080" fill-opacity="0.55" stroke="#111" stroke-width="1.2" stroke-linejoin="round"/>
<path d="M89.3,146.4L91.8,141.9L94.3,146.4Z" fill="#808080" fill-opacity="0.55" stroke="#111" stroke-width="1.2" stroke-linejoin="round"/>
<path d="M98.1,141.4L100.6,136.9L103.1,141.4Z" fill="#808080" fill-opacity="0.55" stroke="#111" stroke-width="1.2" stroke-linejoin="round"/>
<path d="M100.9,132.2L103.4,127.7L105.9,132.2Z" fill="#808080" fill-opacity="0.55" stroke="#111" stroke-width="1.2" stroke-linejoin="round"/>
<path d="M106.2,117.5L108.7,113.0L111.2,117.5Z" fill="#808080" fill-opacity="0.55" stroke="#111" stroke-width="1.2" stroke-linejoin="round"/>
<path d="M119.1,109.3L121.6,104.8L124.1,109.3Z" fill="#808080" fill-opacity="0.55" stroke="#111" stroke-width="1.2" stroke-linejoin="round"/>
<path d="M121.3,100.5L123.8,96.0L126.3,100.5Z" fill="#808080" fill-opacity="0.55" stroke="#111" stroke-width="1.2" stroke-linejoin="round"/>
<path d="M124.3,86.3L126.8,81.8L129.3,86.3Z" fill="#808080" fill-opacity="0.55" stroke="#111" stroke-width="1.2" stroke-linejoin="round"/>
<path d="M127.6,75.3L130.1,70.8L132.6,75.3Z" fill="#808080" fill-opacity="0.55" stroke="#111" stroke-width="1.2" stroke-linejoin="round"/>
<path d="M133.4,67.1L135.9,62.6L138.4,67.1Z" fill="#808080" fill-opacity="0.55" stroke="#111" stroke-width="1.2" stroke-linejoin="round"/>
<path d="M145.0,56.5L147.5,52.0L150.0,56.5Z" fill="#808080" fill-opacity="0.55" stroke="#111" stroke-width="1.2" stroke-linejoin="round"/>
<path d="M156.2,54.3L158.7,49.8L161.2,54.3Z" fill="#808080" fill-opacity="0.55" stroke="#111" stroke-width="1.2" stroke-linejoin="round"/>
<path d="M174.3,42.2L176.8,37.7L179.3,42.2Z" fill="#808080" fill-opacity="0.55" stroke="#111" stroke-width="1.2" stroke-linejoin="round"/>
<path d="M191.3,26.2L193.8,21.7L196.3,26.2Z" fill="#808080" fill-opacity="0.55" stroke="#111" stroke-width="1.2" stroke-linejoin="round"/>
<path d="M215.2,20.5L217.7,16.0L220.2,20.5Z" fill="#808080" fill-opacity="0.55" stroke="#111" stroke-width="1.2" stroke-linejoin="round"/>
<path d="M264.4,19.0L266.9,14.5L269.4,19.0Z" fill="#808080" fill-opacity="0.55" stroke="#111" stroke-width="1.2" stroke-linejoin="round"/>
<path d="M294.3,16.5L296.8,12.0L299.3,16.5Z" fill="#808080" fill-opacity="0.55" stroke="#111" stroke-width="1.2" stroke-linejoin="round"/>
<path d="M313.8,14.6L316.3,10.1L318.8,14.6Z" fill="#808080" fill-opacity="0.55" stroke="#111" stroke-width="1.2" stroke-linejoin="round"/>
<path d="M355.1,15.9L357.6,11.4L360.1,15.9Z" fill="#808080" fill-opacity="0.55" stroke="#111" stroke-width="1.2" stroke-linejoin="round"/>
<path d="M372.8,7.9L375.3,3.4L377.8,7.9Z" fill="#808080" fill-opacity="0.55" stroke="#111" stroke-width="1.2" stroke-linejoin="round"/>
<path d="M376.5,8.0L379.0,3.5L381.5,8.0Z" fill="#808080" fill-opacity="0.55" stroke="#111" stroke-width="1.2" stroke-linejoin="round"/>
<path d="M380.3,8.0L382.8,3.5L385.3,8.0Z" fill="#808080" fill-opacity="0.55" stroke="#111" stroke-width="1.2" stroke-linejoin="round"/>
<path d="M383.5,8.0L386.0,3.5L388.5,8.0Z" fill="#808080" fill-opacity="0.55" stroke="#111" stroke-width="1.2" stroke-linejoin="round"/>
<path d="M387.2,8.1L389.7,3.6L392.2,8.1Z" fill="#808080" fill-opacity="0.55" stroke="#111" stroke-width="1.2" stroke-linejoin="round"/>
<path d="M390.5,8.3L393.0,3.8L395.5,8.3Z" fill="#808080" fill-opacity="0.55" stroke="#111" stroke-width="1.2" stroke-linejoin="round"/>
<line x1="62.75" y1="186.3" x2="392.9" y2="6.5" stroke="#ababab" stroke-width="1"/>
<g stroke="#1e1e1e" stroke-width="1.05">
<line x1="56.5" y1="0" x2="56.5" y2="192.7"/>
<line x1="56" y1="192.4" x2="399.7" y2="192.4"/>
<line x1="62.75" y1="192.2" x2="62.75" y2="196.7"/>
<line x1="52" y1="186.30" x2="56.5" y2="186.30"/>
<line x1="145.29" y1="192.2" x2="145.29" y2="196.7"/>
<line x1="52" y1="141.35" x2="56.5" y2="141.35"/>
<line x1="227.82" y1="192.2" x2="227.82" y2="196.7"/>
<line x1="52" y1="96.40" x2="56.5" y2="96.40"/>
<line x1="310.36" y1="192.2" x2="310.36" y2="196.7"/>
<line x1="52" y1="51.45" x2="56.5" y2="51.45"/>
<line x1="392.90" y1="192.2" x2="392.90" y2="196.7"/>
<line x1="52" y1="6.50" x2="56.5" y2="6.50"/>
</g>
<g font-family="'Liberation Sans', Arial, sans-serif" font-size="12.15" fill="#1c1c1c" stroke="#1c1c1c" stroke-width="0.22">
<text x="62.8" y="211.7" text-anchor="middle" font-size="11.9">0.00</text>
<text x="47.4" y="190.8" text-anchor="end" font-size="11.9">0.00</text>
<text x="145.3" y="211.7" text-anchor="middle" font-size="11.9">0.25</text>
<text x="47.4" y="145.9" text-anchor="end" font-size="11.9">0.25</text>
<text x="227.8" y="211.7" text-anchor="middle" font-size="11.9">0.50</text>
<text x="47.4" y="100.9" text-anchor="end" font-size="11.9">0.50</text>
<text x="310.4" y="211.7" text-anchor="middle" font-size="11.9">0.75</text>
<text x="47.4" y="55.9" text-anchor="end" font-size="11.9">0.75</text>
<text x="392.9" y="211.7" text-anchor="middle" font-size="11.9">1.00</text>
<text x="47.4" y="11.0" text-anchor="end" font-size="11.9">1.00</text>
<text x="227.8" y="232.3" text-anchor="middle" font-size="11.9">1-Specificity</text>
<text transform="translate(11.2,95.7) rotate(-90)" text-anchor="middle" font-size="11.9" letter-spacing="0.26">Sensitivity</text>
</g>
<rect x="69.05" y="242.05" width="311.85" height="34.95" fill="#fff" stroke="#222" stroke-width="1.4"/>
<g font-family="'Liberation Sans', Arial, sans-serif" font-size="12.15" fill="#1c1c1c" stroke="#1c1c1c" stroke-width="0.22">
<text x="116.4" y="255.7">Free kappa: 0.75</text>
<text x="116.4" y="270.9">Albumin: 0.77</text>
<text x="274.4" y="255.7">Free lambda: 0.73</text>
<text x="274.4" y="270.9">Reference</text>
</g>
<line x1="73" y1="251.8" x2="111.5" y2="251.8" stroke="#111" stroke-width="1.4"/><circle cx="92.2" cy="251.8" r="1.9" fill="#111"/>
<line x1="72.8" y1="267" x2="110.5" y2="267" stroke="#111" stroke-width="1.4" stroke-dasharray="1.8,0.9"/><path d="M90.1,268.3L92.6,264.6L95.1,268.3Z" fill="#777" stroke="#111" stroke-width="1.2" stroke-linejoin="round"/>
<line x1="230" y1="251.8" x2="268.5" y2="251.8" stroke="#808080" stroke-width="1.2"/><path d="M249.3,249.2v5.2" stroke="#808080" stroke-width="1"/>
<line x1="230" y1="267.2" x2="268.5" y2="267.2" stroke="#bdbdbd" stroke-width="1.1"/>
</svg>
</body></html>
